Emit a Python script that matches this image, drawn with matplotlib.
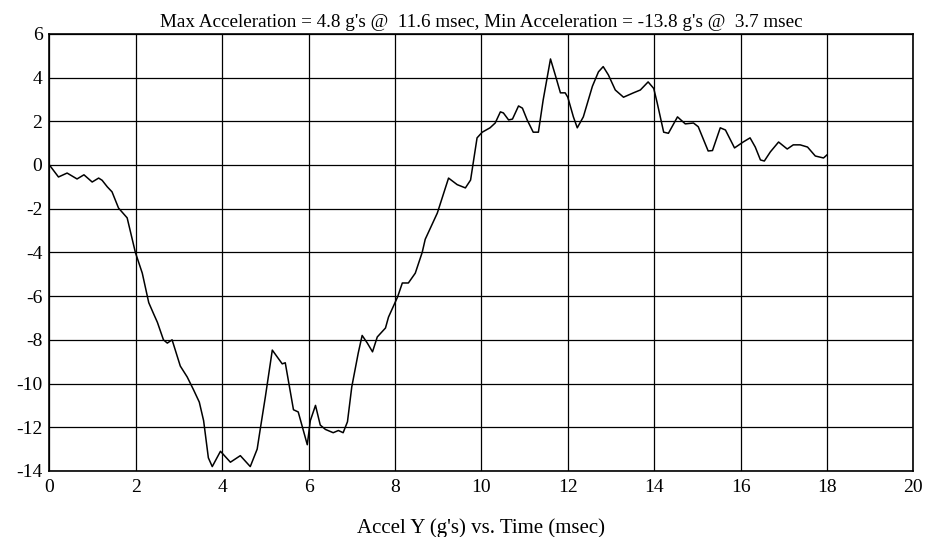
import matplotlib.pyplot as plt
import numpy as np

plt.rcParams['font.family'] = ['Liberation Serif', 'DejaVu Serif']
plt.rcParams['axes.unicode_minus'] = False

# acceleration trace, time in msec, accel in g's
time_ms = [0.0, 0.21, 0.41, 0.64, 0.8, 0.99, 1.14, 1.22, 1.34, 1.45, 1.6, 1.8, 1.99,
           2.15, 2.3, 2.41, 2.5, 2.64, 2.73, 2.84, 3.03, 3.19, 3.34, 3.47, 3.57, 3.68,
           3.77, 3.96, 4.19, 4.42, 4.65, 4.81, 4.88, 5.0, 5.16, 5.28, 5.39, 5.46, 5.65,
           5.76, 5.97, 6.04, 6.16, 6.27, 6.39, 6.57, 6.69, 6.8, 6.9, 7.0, 7.15, 7.24,
           7.36, 7.48, 7.59, 7.78, 7.85, 8.06, 8.17, 8.31, 8.47, 8.63, 8.7, 8.98, 9.24,
           9.44, 9.63, 9.75, 9.9, 10.02, 10.2, 10.32, 10.44, 10.51, 10.63, 10.72, 10.86,
           10.95, 11.06, 11.2, 11.32, 11.43, 11.6, 11.71, 11.83, 11.94, 12.0, 12.13,
           12.22, 12.36, 12.57, 12.71, 12.82, 12.94, 13.1, 13.29, 13.52, 13.68, 13.86,
           13.99, 14.07, 14.22, 14.33, 14.54, 14.72, 14.91, 15.02, 15.25, 15.35, 15.53,
           15.65, 15.86, 16.06, 16.22, 16.34, 16.46, 16.55, 16.69, 16.88, 17.08, 17.22,
           17.38, 17.55, 17.73, 17.92, 18.0]
accel_g = [0.0, -0.55, -0.37, -0.64, -0.45, -0.78, -0.6, -0.7, -1.0, -1.23, -1.97, -2.42,
           -4.0, -4.95, -6.3, -6.8, -7.2, -8.0, -8.15, -8.0, -9.2, -9.7, -10.3, -10.85,
           -11.7, -13.4, -13.8, -13.1, -13.6, -13.3, -13.8, -13.0, -12.1, -10.6, -8.47,
           -8.8, -9.1, -9.05, -11.2, -11.3, -12.8, -11.7, -11.0, -11.9, -12.1, -12.25,
           -12.15, -12.25, -11.75, -10.15, -8.6, -7.8, -8.15, -8.55, -7.87, -7.46, -6.96,
           -6.04, -5.4, -5.4, -4.95, -4.0, -3.4, -2.2, -0.6, -0.9, -1.05, -0.69, 1.24,
           1.5, 1.7, 1.92, 2.43, 2.38, 2.06, 2.1, 2.7, 2.6, 2.06, 1.5, 1.5, 2.97, 4.85,
           4.12, 3.3, 3.3, 3.1, 2.2, 1.7, 2.2, 3.6, 4.26, 4.5, 4.12, 3.43, 3.1, 3.3,
           3.43, 3.8, 3.5, 2.84, 1.5, 1.45, 2.2, 1.88, 1.92, 1.75, 0.64, 0.66, 1.7, 1.6,
           0.78, 1.05, 1.24, 0.82, 0.23, 0.18, 0.6, 1.05, 0.73, 0.92, 0.92, 0.82, 0.41,
           0.32, 0.46]

x_ticks = np.arange(0, 21, 2)
y_ticks = np.arange(-14, 7, 2)

fig = plt.figure(figsize=(9.32, 5.37), dpi=100)
ax = fig.add_axes([0.053, 0.123, 0.927, 0.814])

ax.plot(time_ms, accel_g, color='black', linewidth=1.1)

ax.set_xlim(0, 20)
ax.set_ylim(-14, 6)
ax.set_xticks(x_ticks)
ax.set_yticks(y_ticks)
ax.grid(True, color='black', linewidth=0.9)
ax.tick_params(length=0, labelsize=14)
ax.tick_params(axis='x', pad=6)
ax.tick_params(axis='y', pad=5)
for side in ax.spines.values():
    side.set_linewidth(1.2)

ax.set_title("Max Acceleration = 4.8 g's @  11.6 msec, Min Acceleration = -13.8 g's @  3.7 msec",
             fontsize=13.8, pad=5)
ax.set_xlabel("Accel Y (g's) vs. Time (msec)", fontsize=15, labelpad=16)

fig.savefig('out.png', dpi=100)
